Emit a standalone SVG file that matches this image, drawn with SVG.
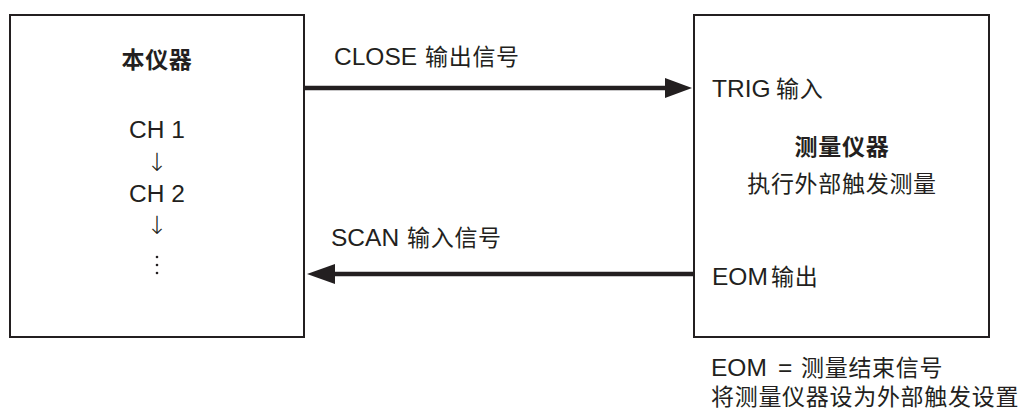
<svg xmlns="http://www.w3.org/2000/svg" width="1024" height="412" viewBox="0 0 1024 412">
<style>
.box{fill:#fff;stroke:#231f20;stroke-width:2}
.t{font-family:"Liberation Sans","Noto Sans CJK SC",sans-serif;font-size:24.5px;fill:#231f20}
.c{font-size:23px;letter-spacing:0.7px}
.b{font-weight:bold}
.m{text-anchor:middle}
.ar{font-family:"DejaVu Sans",sans-serif;font-weight:200;font-size:25px;fill:#231f20;text-anchor:middle}
.ln{stroke:#231f20;stroke-width:4.5;fill:none}
.ah{fill:#231f20}
</style>
<rect width="1024" height="412" fill="#fff"/>
<g id="instrument">
<rect class="box" x="10" y="15" width="294" height="322"/>
<text class="t c b m" x="157" y="68">本仪器</text>
<text class="t m" x="157" y="138">CH 1</text>
<text class="ar" x="157" y="171">↓</text>
<text class="t m" x="157" y="202">CH 2</text>
<text class="ar" x="157" y="234">↓</text>
<circle class="ah" cx="157" cy="257" r="1.3"/>
<circle class="ah" cx="157" cy="265" r="1.3"/>
<circle class="ah" cx="157" cy="273" r="1.3"/>
</g>
<g id="measuring">
<rect class="box" x="694" y="15" width="295" height="322"/>
<text class="t" x="712" y="97">TRIG<tspan class="c" x="776">输入</tspan></text>
<text class="t c b m" x="842" y="155">测量仪器</text>
<text class="t c m" x="842" y="192">执行外部触发测量</text>
<text class="t" x="712" y="285">EOM<tspan class="c" x="771">输出</tspan></text>
</g>
<g id="connectors">
<line class="ln" x1="305" y1="88" x2="668" y2="88"/>
<polygon class="ah" points="692,88 665,78 665,98"/>
<line class="ln" x1="693" y1="274" x2="332" y2="274"/>
<polygon class="ah" points="307,274 335,264 335,284"/>
<text class="t" x="334" y="65">CLOSE<tspan class="c" x="425">输出信号</tspan></text>
<text class="t" x="331" y="246">SCAN<tspan class="c" x="407">输入信号</tspan></text>
</g>
<g id="note">
<text class="t" x="711" y="376">EOM<tspan x="778">=</tspan><tspan class="c" x="801">测量结束信号</tspan></text>
<text class="t c" x="711" y="405">将测量仪器设为外部触发设置</text>
</g>
</svg>
